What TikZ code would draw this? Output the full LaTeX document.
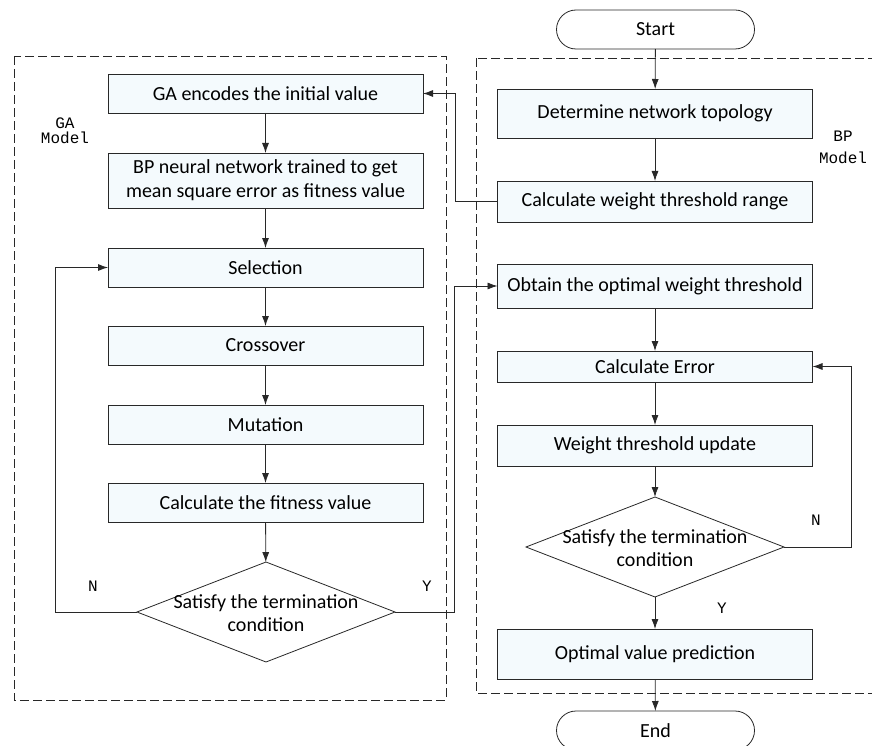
\documentclass[tikz,border=0pt]{standalone}
\usepackage{fontspec}
\setmainfont{Carlito}
\newfontfamily\labelfont{Liberation Mono}
\usetikzlibrary{shapes.geometric,shapes.misc,arrows.meta}

\definecolor{boxfill}{RGB}{244,250,253}
\definecolor{linegray}{RGB}{40,40,40}

\tikzset{
	stepbox/.style={draw=linegray, fill=boxfill, line width=0.8pt, rectangle, minimum width=315pt, inner sep=0pt, outer sep=0pt, align=center, font=\fontsize{20}{24}\selectfont},
	terminal/.style={draw=linegray, fill=white, line width=0.8pt, rounded rectangle, minimum width=198pt, minimum height=39pt, inner sep=0pt, outer sep=0pt, font=\fontsize{20}{24}\selectfont},
	decision/.style={draw=linegray, fill=white, line width=0.8pt, diamond, minimum width=258pt, minimum height=100pt, inner sep=0pt, outer sep=0pt},
	dectext/.style={align=center, font=\fontsize{20}{23}\selectfont},
	modelbox/.style={draw=linegray, line width=0.7pt, dash pattern=on 9pt off 4pt},
	lbl/.style={align=center, text=black, font=\labelfont\fontsize{16}{15}\selectfont},
	flow/.style={draw=linegray, line width=0.8pt, -{Latex[length=10pt,width=7pt]}},
}

\begin{document}
\begin{tikzpicture}[x=1pt, y=-1pt]
		\useasboundingbox (0,0) rectangle (872,746);
		% model frames
		\draw[modelbox] (14,56) rectangle (446,700);
		\draw[modelbox] (476,58) rectangle (880,693);
		\node[lbl] (galbl) at (65,131) {GA\\Model};
		\node[lbl] (bplbl) at (843,147) {BP\\[7pt]Model};

		% GA model
		\node[stepbox, minimum height=39pt] (encode) at (265.5,93.5) {GA encodes the initial value};
		\node[stepbox, minimum height=55pt] (train) at (265.5,180.5) {BP neural network trained to get\\mean square error as fitness value};
		\node[stepbox, minimum height=39pt] (select) at (265.5,267.5) {Selection};
		\node[stepbox, minimum height=39pt] (cross) at (265.5,345.5) {Crossover};
		\node[stepbox, minimum height=39pt] (mutate) at (265.5,424.5) {Mutation};
		\node[stepbox, minimum height=39pt] (fitness) at (265.5,502.5) {Calculate the fitness value};
		\node[decision] (gacheck) at (266,612) {};
		\node[dectext] (gachecktxt) at (266,613) {Satisfy the termination\\condition};

		% BP model
		\node[terminal] (start) at (655.5,29.5) {Start};
		\node[stepbox, minimum height=49pt] (topo) at (655,113.5) {Determine network topology};
		\node[stepbox, minimum height=41pt] (range) at (655,201.5) {Calculate weight threshold range};
		\node[stepbox, minimum height=44pt] (optimal) at (655,286) {Obtain the optimal weight threshold};
		\node[stepbox, minimum height=31pt] (error) at (655,366.5) {Calculate Error};
		\node[stepbox, minimum height=41pt] (update) at (655,445.5) {Weight threshold update};
		\node[decision] (bpcheck) at (655,547) {};
		\node[dectext] (bpchecktxt) at (655,548) {Satisfy the termination\\condition};
		\node[stepbox, minimum height=50pt] (predict) at (655,654) {Optimal value prediction};
		\node[terminal] (end) at (655.5,730.5) {End};

		\coordinate (galoop) at (55,612);
		\coordinate (gayes) at (454,612);
		\coordinate (rangeback) at (455,201.5);
		\coordinate (bploop) at (851,547);

		% connectors
		\draw[flow] (encode) -- (train);
		\draw[flow] (train) -- (select);
		\draw[flow] (select) -- (cross);
		\draw[flow] (cross) -- (mutate);
		\draw[flow] (mutate) -- (fitness);
		\draw[flow] (fitness) -- (gacheck);
		\draw[flow] (gacheck.west) -- (galoop) |- (select.west);
		\draw[flow] (gacheck.east) -- (gayes) |- (optimal.west);
		\draw[flow] (start) -- (topo);
		\draw[flow] (topo) -- (range);
		\draw[flow] (range.west) -- (rangeback) |- (encode.east);
		\draw[flow] (optimal) -- (error);
		\draw[flow] (error) -- (update);
		\draw[flow] (update) -- (bpcheck);
		\draw[flow] (bpcheck.east) -- (bploop) |- (error.east);
		\draw[flow] (bpcheck) -- (predict);
		\draw[flow] (predict) -- (end);

		\node[lbl] (gano) at (93,586) {N};
		\node[lbl] (gayeslbl) at (427,586) {Y};
		\node[lbl] (bpno) at (816,520) {N};
		\node[lbl] (bpyeslbl) at (722,608) {Y};
	\end{tikzpicture}
\end{document}
